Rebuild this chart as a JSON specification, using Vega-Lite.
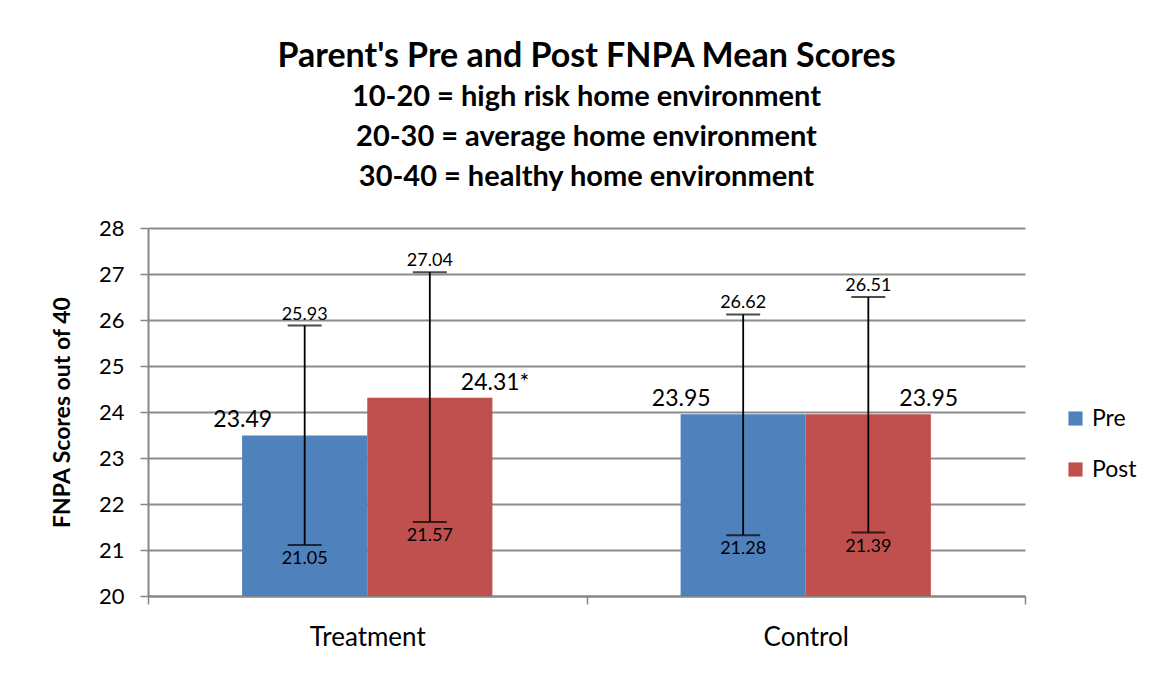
{
  "$schema": "https://vega.github.io/schema/vega-lite/v6.json",
  "width": 877,
  "height": 368,
  "autosize": {"type": "none"},
  "padding": {"left": 148, "top": 228, "right": 126, "bottom": 83},
  "background": "white",
  "config": {"font": "Lato", "view": {"stroke": null}},
  "title": {
    "text": "Parent's Pre and Post FNPA Mean Scores",
    "subtitle": ["10-20 = high risk home environment", "20-30 = average home environment", "30-40 = healthy home environment"],
    "fontSize": 34,
    "fontWeight": "bold",
    "color": "#000000",
    "subtitleFontSize": 29,
    "subtitleFontWeight": "bold",
    "subtitleColor": "#000000",
    "subtitleLineHeight": 40,
    "subtitlePadding": 9,
    "anchor": "middle",
    "offset": 25
  },
  "data": {
    "values": [
      {"group": "Treatment", "series": "Pre", "mean": 23.49, "label": "23.49", "lo": 21.11, "hi": 25.88, "loLabel": "21.05", "hiLabel": "25.93"},
      {"group": "Treatment", "series": "Post", "mean": 24.31, "label": "24.31*", "lo": 21.61, "hi": 27.04, "loLabel": "21.57", "hiLabel": "27.04"},
      {"group": "Control", "series": "Pre", "mean": 23.95, "label": "23.95", "lo": 21.32, "hi": 26.12, "loLabel": "21.28", "hiLabel": "26.62"},
      {"group": "Control", "series": "Post", "mean": 23.95, "label": "23.95", "lo": 21.38, "hi": 26.5, "loLabel": "21.39", "hiLabel": "26.51"}
    ]
  },
  "encoding": {
    "x": {
      "field": "group", "type": "nominal", "sort": ["Treatment", "Control"],
      "scale": {"paddingInner": 0, "paddingOuter": 0},
      "axis": {
        "title": null, "labelAngle": 0, "labelFontSize": 26, "labelColor": "#000000", "labelPadding": 20,
        "tickBand": "extent", "tickSize": 8, "tickColor": "#868686", "tickWidth": 1.5,
        "domainColor": "#868686", "domainWidth": 2, "grid": false
      }
    },
    "xOffset": {"field": "series", "type": "nominal", "sort": ["Pre", "Post"], "scale": {"paddingInner": 0, "paddingOuter": 0.752}}
  },
  "layer": [
    {
      "mark": {"type": "bar"},
      "encoding": {
        "y": {
          "field": "mean", "type": "quantitative",
          "scale": {"domain": [20, 28], "nice": false, "zero": false},
          "axis": {
            "title": "FNPA Scores out of 40", "titleFontSize": 23, "titleFontWeight": "bold", "titleColor": "#000000", "titlePadding": 24,
            "values": [20, 21, 22, 23, 24, 25, 26, 27, 28],
            "labelFontSize": 22, "labelColor": "#000000", "labelPadding": 16,
            "tickSize": 8, "tickColor": "#868686", "tickWidth": 1.5,
            "domainColor": "#868686", "domainWidth": 2,
            "grid": true, "gridColor": "#8c8c8c", "gridWidth": 2
          }
        },
        "y2": {"datum": 20},
        "color": {
          "field": "series", "type": "nominal", "sort": ["Pre", "Post"],
          "scale": {"domain": ["Pre", "Post"], "range": ["#4F81BD", "#C0504D"]},
          "legend": {
            "orient": "none", "legendX": 916, "legendY": 179, "title": null,
            "symbolType": "square", "symbolSize": 200, "symbolStrokeWidth": 0,
            "labelFontSize": 23, "labelColor": "#000000", "labelOffset": 5, "rowPadding": 27
          }
        }
      }
    },
    {
      "mark": {"type": "rule", "color": "#000000", "strokeWidth": 1.8},
      "encoding": {"y": {"field": "lo", "type": "quantitative"}, "y2": {"field": "hi"}}
    },
    {
      "mark": {"type": "tick", "color": "#000000", "thickness": 2, "size": 34, "orient": "horizontal"},
      "encoding": {"y": {"field": "lo", "type": "quantitative"}}
    },
    {
      "mark": {"type": "tick", "color": "#000000", "thickness": 2, "size": 34, "orient": "horizontal"},
      "encoding": {"y": {"field": "hi", "type": "quantitative"}}
    },
    {
      "mark": {"type": "text", "fontSize": 18, "color": "#000000", "baseline": "alphabetic", "dy": -6},
      "encoding": {"y": {"field": "hi", "type": "quantitative"}, "text": {"field": "hiLabel"}}
    },
    {
      "mark": {"type": "text", "fontSize": 18, "color": "#000000", "baseline": "top", "dy": 5},
      "encoding": {"y": {"field": "lo", "type": "quantitative"}, "text": {"field": "loLabel"}}
    },
    {
      "transform": [{"filter": "datum.series === 'Pre'"}],
      "mark": {"type": "text", "fontSize": 23, "color": "#000000", "baseline": "alphabetic", "align": "center", "dx": -62, "dy": -8},
      "encoding": {"y": {"field": "mean", "type": "quantitative"}, "text": {"field": "label"}}
    },
    {
      "transform": [{"filter": "datum.series === 'Post'"}],
      "mark": {"type": "text", "fontSize": 23, "color": "#000000", "baseline": "alphabetic", "align": "left", "dx": 31, "dy": -8},
      "encoding": {"y": {"field": "mean", "type": "quantitative"}, "text": {"field": "label"}}
    }
  ]
}
